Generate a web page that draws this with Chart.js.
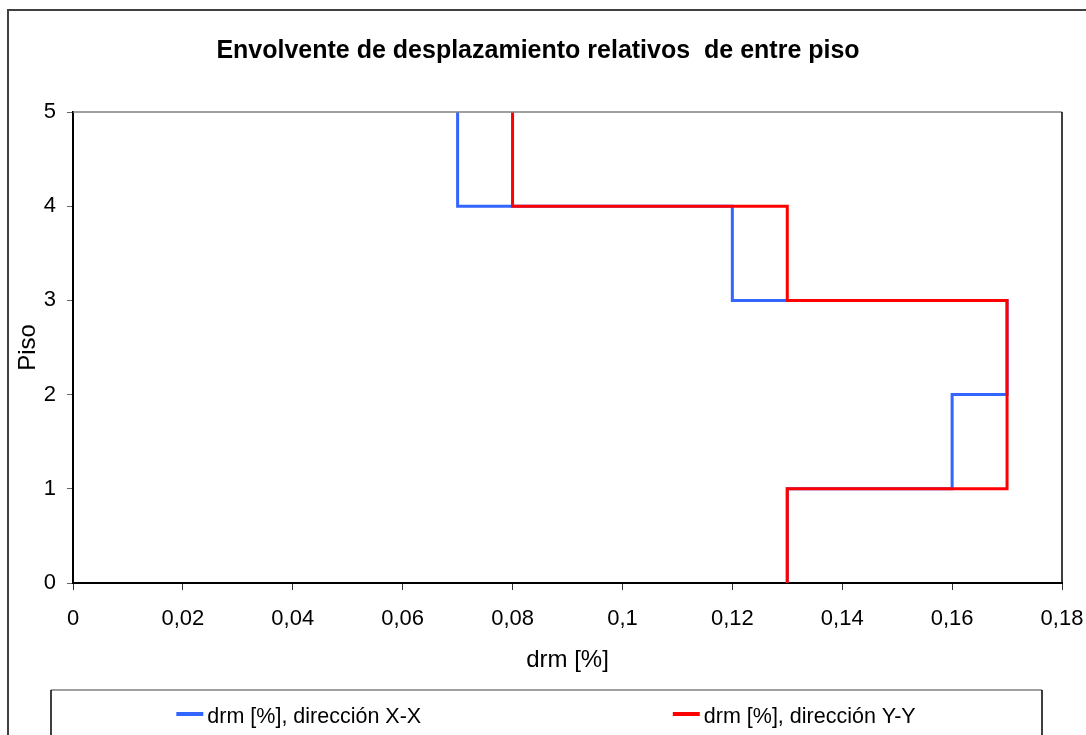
<!DOCTYPE html>
<html lang="es">
<head>
<meta charset="UTF-8">
<title>Envolvente de desplazamiento relativos de entre piso</title>
<style>
  body { margin: 0; background: #fff; }
  canvas { display: block; }
</style>
<script src="https://cdn.jsdelivr.net/npm/chart.js"></script>
</head>
<body>
<canvas id="driftChart" width="1086" height="735"></canvas>
<script>
// drift of each story, from the top story (5) down to story 1
const storyTop = [5, 4, 3, 2, 1];
const storyBottom = [4, 3, 2, 1, 0];
const drmXX = [0.07, 0.12, 0.17, 0.16, 0.13];
const drmYY = [0.08, 0.13, 0.17, 0.17, 0.13];

const xTickValues = [0, 0.02, 0.04, 0.06, 0.08, 0.1, 0.12, 0.14, 0.16, 0.18];
const xTickLabels = ['0', '0,02', '0,04', '0,06', '0,08', '0,1', '0,12', '0,14', '0,16', '0,18'];
const yTickValues = [0, 1, 2, 3, 4, 5];
const yTickLabels = ['0', '1', '2', '3', '4', '5'];

const FONT = '"Liberation Sans", Arial, sans-serif';

// vertical step line: one vertical segment per story
function envelope(values) {
    const pts = [];
    values.forEach((v, i) => {
        pts.push({ x: v, y: storyTop[i] });
        pts.push({ x: v, y: storyBottom[i] });
    });
    return pts;
}

// plot frame, outer border and the boxed legend under the chart
const frame = {
    id: 'frame',
    afterDraw(chart) {
        const ctx = chart.ctx;
        const a = chart.chartArea;
        ctx.save();
        ctx.lineWidth = 1.5;
        ctx.strokeStyle = '#808080';
        ctx.beginPath();
        ctx.moveTo(a.left, a.top);
        ctx.lineTo(a.right, a.top);
        ctx.stroke();
        ctx.strokeStyle = '#000';
        ctx.beginPath();
        ctx.moveTo(a.right, a.top);
        ctx.lineTo(a.right, a.bottom);
        ctx.stroke();

        ctx.strokeStyle = '#404040';
        ctx.lineWidth = 2;
        ctx.strokeRect(8, 10, chart.width + 20, chart.height + 20);

        const box = { left: 51, top: 690, right: 1042 };
        ctx.lineWidth = 1.5;
        ctx.strokeStyle = '#808080';
        ctx.beginPath();
        ctx.moveTo(box.left, box.top);
        ctx.lineTo(box.right, box.top);
        ctx.stroke();
        ctx.strokeStyle = '#000';
        ctx.beginPath();
        ctx.moveTo(box.left, box.top);
        ctx.lineTo(box.left, chart.height + 5);
        ctx.moveTo(box.right, box.top);
        ctx.lineTo(box.right, chart.height + 5);
        ctx.stroke();

        ctx.font = '21.5px ' + FONT;
        ctx.textBaseline = 'alphabetic';
        ctx.textAlign = 'left';
        const half = (box.right - box.left) / 2;
        chart.data.datasets.forEach((ds, i) => {
            const w = 31 + ctx.measureText(ds.label).width;
            const x0 = box.left + half * (i + 0.5) - w / 2;
            ctx.strokeStyle = ds.borderColor;
            ctx.lineWidth = 4;
            ctx.beginPath();
            ctx.moveTo(x0, 714);
            ctx.lineTo(x0 + 27, 714);
            ctx.stroke();
            ctx.fillStyle = '#000';
            ctx.fillText(ds.label, x0 + 31, 723);
        });
        ctx.restore();
    }
};

new Chart(document.getElementById('driftChart'), {
    type: 'scatter',
    data: {
        datasets: [{
            label: 'drm [%], dirección X-X',
            data: envelope(drmXX),
            borderColor: '#3366FF',
            order: 1
        }, {
            label: 'drm [%], dirección Y-Y',
            data: envelope(drmYY),
            borderColor: '#FF0000',
            order: 0
        }]
    },
    options: {
        responsive: false,
        animation: false,
        showLine: true,
        elements: {
            point: { radius: 0, hoverRadius: 0 },
            line: { borderWidth: 3, tension: 0, borderJoinStyle: 'miter', borderCapStyle: 'butt' }
        },
        layout: { padding: { left: 14, right: 24, top: 0, bottom: 60.6 } },
        scales: {
            x: {
                type: 'linear',
                min: 0,
                max: 0.18,
                afterBuildTicks: s => { s.ticks = xTickValues.map(v => ({ value: v })); },
                afterFit: s => {
                    s.height = 91.4;
                    s.paddingLeft = 0;
                    s.paddingRight = 0;
                },
                grid: { drawOnChartArea: false, drawTicks: true, tickLength: 7, tickColor: '#333' },
                border: { color: '#000', width: 2 },
                ticks: {
                    padding: 16,
                    color: '#000',
                    font: { family: FONT, size: 22 },
                    maxRotation: 0,
                    autoSkip: false,
                    callback: (v, i) => xTickLabels[i]
                },
                title: {
                    display: true,
                    text: 'drm [%]',
                    color: '#000',
                    font: { family: FONT, size: 24 },
                    padding: { top: 0, bottom: 0 }
                }
            },
            y: {
                type: 'linear',
                min: 0,
                max: 5,
                afterBuildTicks: s => { s.ticks = yTickValues.map(v => ({ value: v })); },
                afterFit: s => { s.width = 59; },
                grid: { drawOnChartArea: false, drawTicks: true, tickLength: 6, tickColor: '#666' },
                border: { color: '#000', width: 2 },
                ticks: {
                    padding: 11,
                    color: '#000',
                    font: { family: FONT, size: 22 },
                    callback: (v, i) => yTickLabels[i]
                },
                title: {
                    display: true,
                    text: 'Piso',
                    color: '#000',
                    font: { family: FONT, size: 24 },
                    padding: { top: 0, bottom: 0 }
                }
            }
        },
        plugins: {
            legend: { display: false },
            tooltip: { enabled: false },
            title: {
                display: true,
                text: 'Envolvente de desplazamiento relativos  de entre piso',
                color: '#000',
                font: { family: FONT, size: 25, weight: 'bold' },
                padding: { top: 36, bottom: 46 }
            }
        }
    },
    plugins: [frame]
});
</script>
</body>
</html>
